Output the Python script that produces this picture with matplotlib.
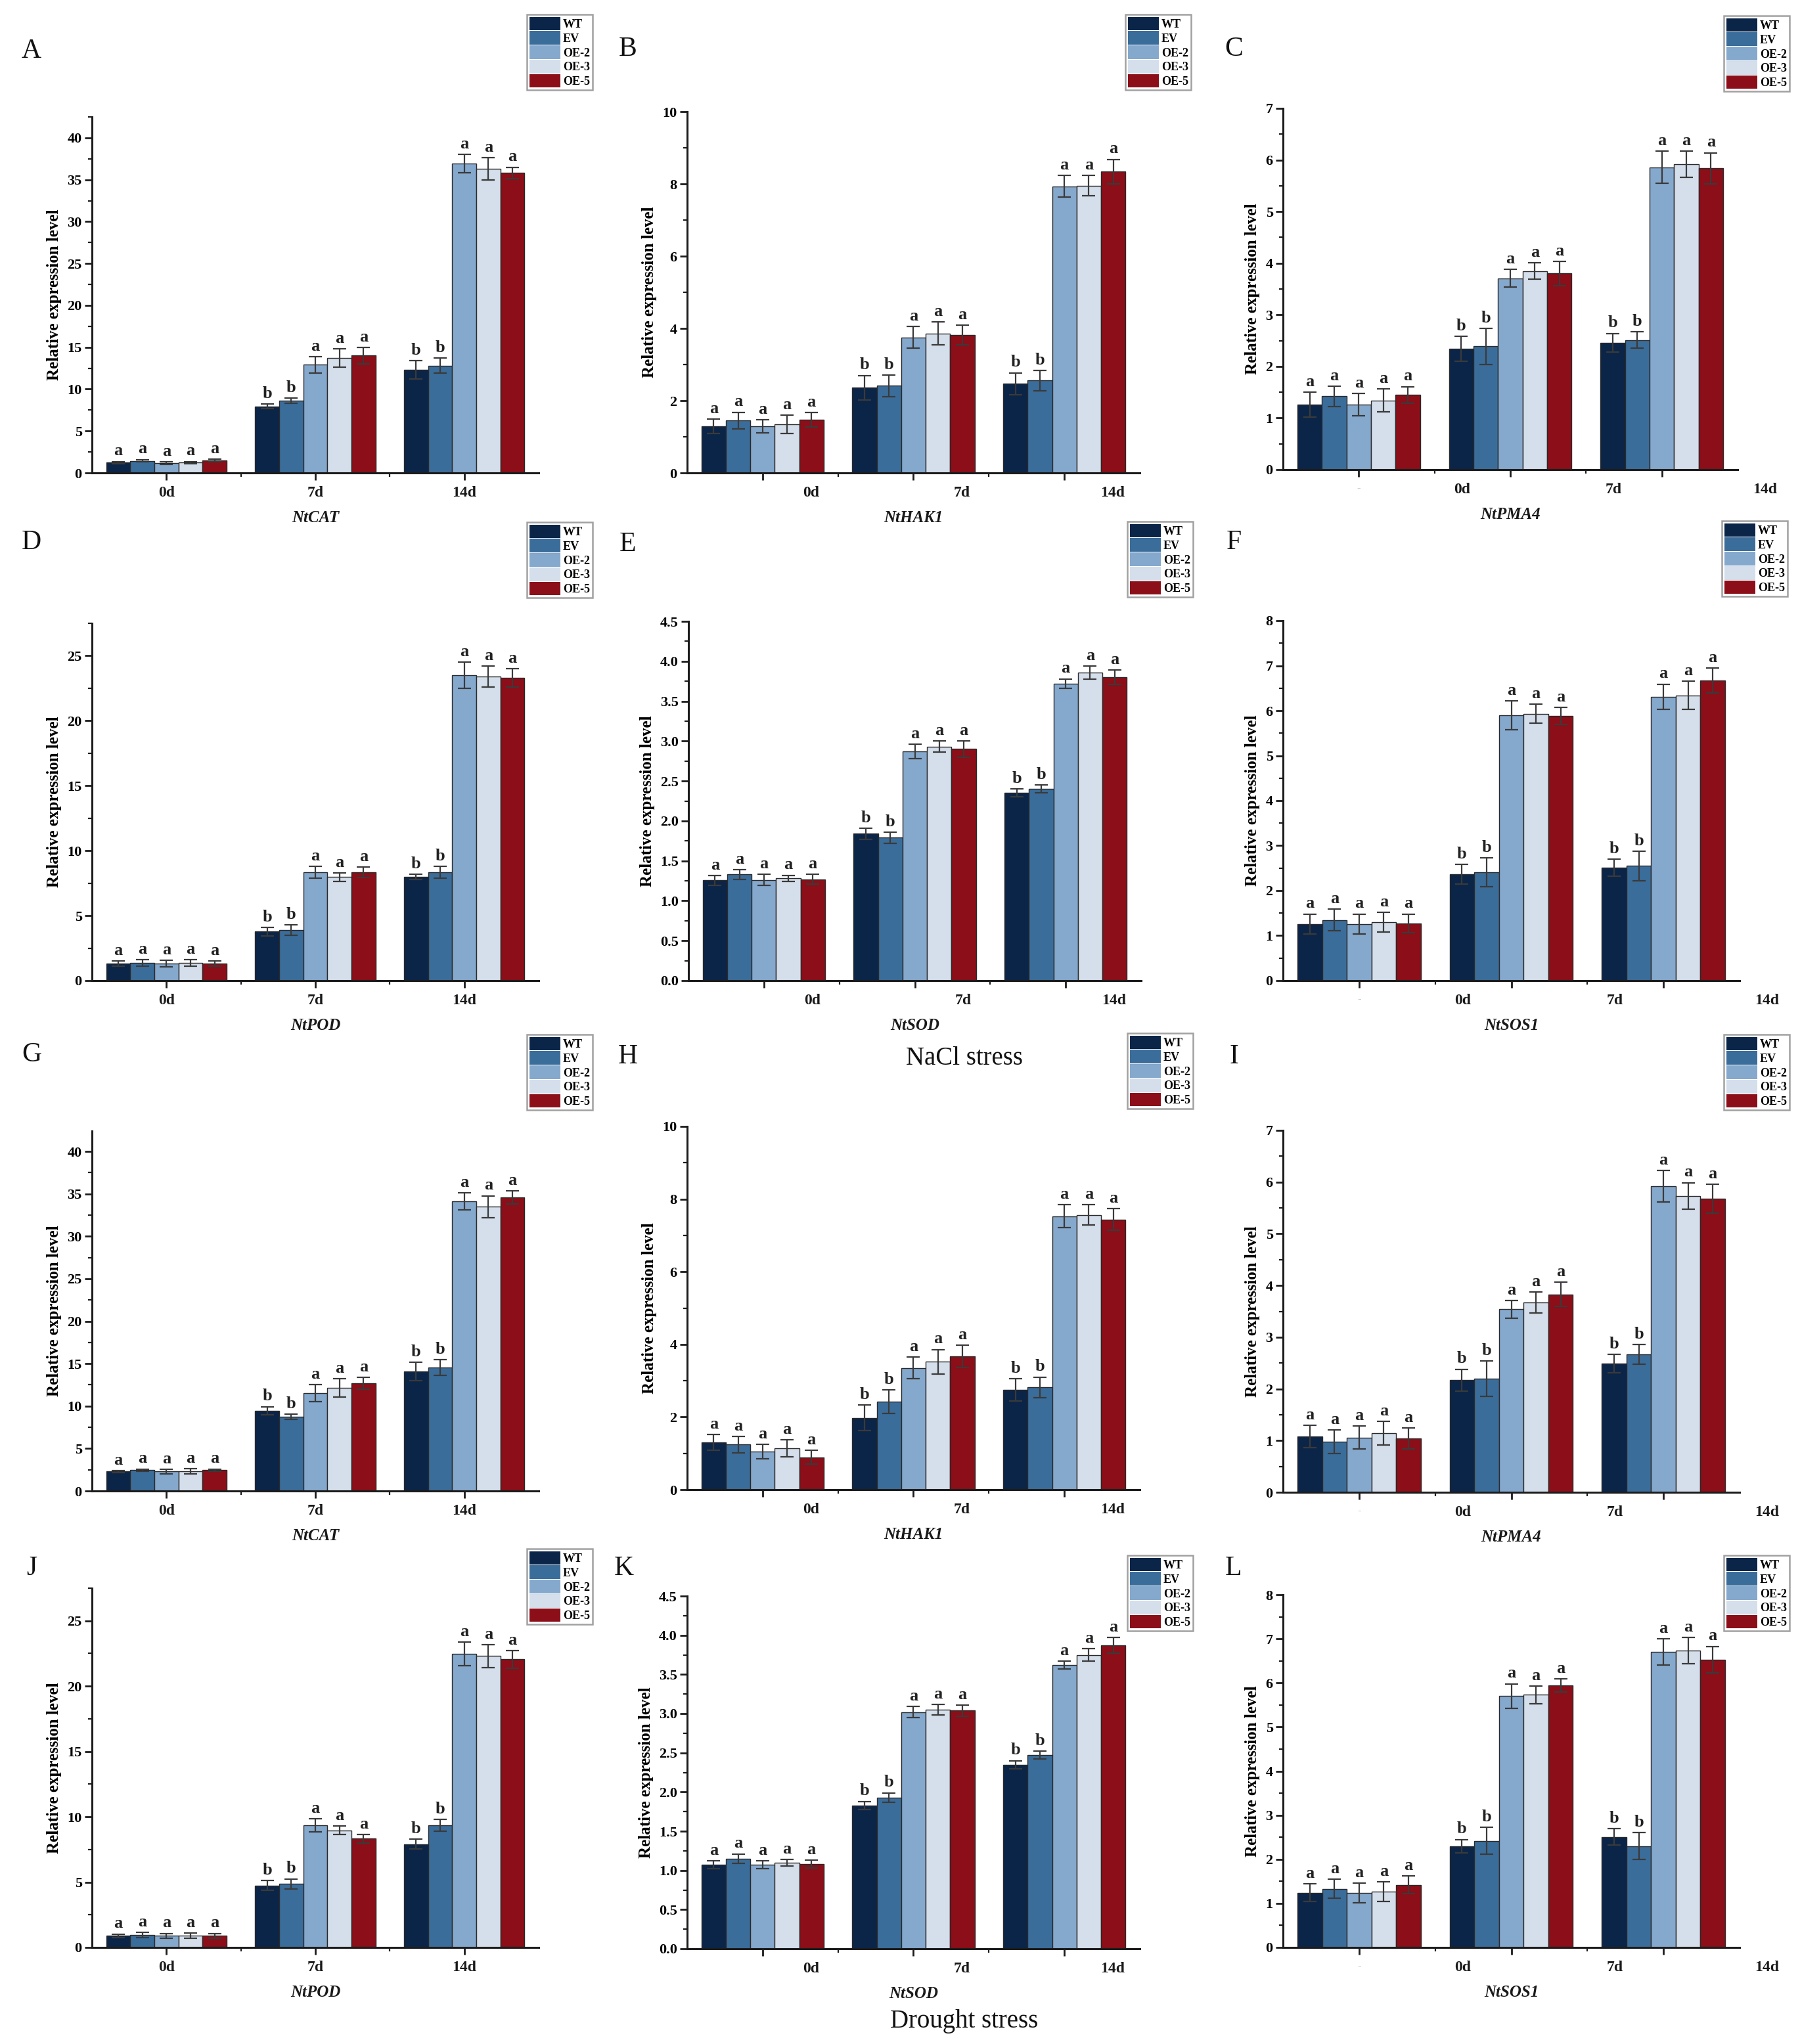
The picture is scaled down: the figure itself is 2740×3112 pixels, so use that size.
import numpy as np
import matplotlib
matplotlib.use("Agg")
import matplotlib.pyplot as plt
from matplotlib.patches import Patch
from matplotlib.ticker import MultipleLocator, AutoMinorLocator, FormatStrFormatter

plt.rcParams['font.family'] = ['Liberation Serif', 'DejaVu Serif']

# ---------------- data ----------------
time_points = ['0d', '7d', '14d']
genotypes = ['WT', 'EV', 'OE-2', 'OE-3', 'OE-5']
colors = ['#0b2548', '#3b6d9b', '#85a8cd', '#d5dfeb', '#8b0e18']
sig_letters = [['a', 'a', 'a', 'a', 'a'],
               ['b', 'b', 'a', 'a', 'a'],
               ['b', 'b', 'a', 'a', 'a']]

# NaCl stress (rows = time points, cols = genotypes)
A_mean = [[1.25, 1.45, 1.2, 1.22, 1.5], [7.95, 8.6, 12.9, 13.7, 14.0], [12.3, 12.8, 36.9, 36.3, 35.8]]
A_err = [[0.12, 0.15, 0.15, 0.15, 0.15], [0.3, 0.3, 1.0, 1.1, 1.0], [1.1, 0.9, 1.1, 1.3, 0.7]]
B_mean = [[1.29, 1.45, 1.29, 1.35, 1.47], [2.36, 2.41, 3.75, 3.86, 3.82], [2.47, 2.56, 7.93, 7.95, 8.34]]
B_err = [[0.2, 0.23, 0.18, 0.25, 0.2], [0.34, 0.3, 0.3, 0.32, 0.27], [0.3, 0.28, 0.3, 0.28, 0.34]]
C_mean = [[1.26, 1.42, 1.26, 1.34, 1.45], [2.34, 2.39, 3.71, 3.85, 3.8], [2.46, 2.51, 5.86, 5.92, 5.84]]
C_err = [[0.24, 0.2, 0.22, 0.22, 0.16], [0.24, 0.35, 0.17, 0.16, 0.23], [0.18, 0.16, 0.31, 0.25, 0.3]]
D_mean = [[1.3, 1.38, 1.3, 1.35, 1.3], [3.77, 3.9, 8.36, 7.97, 8.36], [7.97, 8.36, 23.5, 23.4, 23.3]]
D_err = [[0.2, 0.25, 0.25, 0.25, 0.2], [0.33, 0.4, 0.45, 0.33, 0.4], [0.2, 0.45, 1.0, 0.8, 0.7]]
E_mean = [[1.256, 1.33, 1.26, 1.28, 1.27], [1.84, 1.79, 2.87, 2.93, 2.9], [2.35, 2.4, 3.72, 3.86, 3.8]]
E_err = [[0.06, 0.06, 0.07, 0.04, 0.06], [0.07, 0.07, 0.09, 0.07, 0.1], [0.05, 0.05, 0.06, 0.08, 0.09]]
F_mean = [[1.26, 1.35, 1.26, 1.3, 1.27], [2.36, 2.41, 5.9, 5.93, 5.88], [2.51, 2.55, 6.31, 6.34, 6.67]]
F_err = [[0.22, 0.24, 0.22, 0.22, 0.21], [0.22, 0.32, 0.32, 0.21, 0.19], [0.19, 0.33, 0.28, 0.31, 0.28]]

# Drought stress
G_mean = [[2.3, 2.47, 2.3, 2.3, 2.47], [9.44, 8.76, 11.55, 12.15, 12.67], [14.06, 14.54, 34.14, 33.47, 34.58]]
G_err = [[0.12, 0.12, 0.25, 0.3, 0.12], [0.5, 0.3, 1.0, 1.05, 0.7], [1.1, 0.9, 1.0, 1.3, 0.8]]
H_mean = [[1.3, 1.24, 1.05, 1.14, 0.89], [1.98, 2.42, 3.35, 3.52, 3.67], [2.75, 2.82, 7.53, 7.56, 7.44]]
H_err = [[0.22, 0.23, 0.2, 0.24, 0.19], [0.35, 0.32, 0.3, 0.34, 0.3], [0.3, 0.28, 0.31, 0.28, 0.3]]
I_mean = [[1.08, 0.98, 1.06, 1.14, 1.04], [2.17, 2.2, 3.54, 3.67, 3.83], [2.49, 2.67, 5.92, 5.73, 5.68]]
I_err = [[0.22, 0.23, 0.22, 0.23, 0.2], [0.21, 0.34, 0.17, 0.2, 0.23], [0.18, 0.19, 0.3, 0.26, 0.28]]
J_mean = [[0.88, 0.96, 0.88, 0.91, 0.88], [4.75, 4.87, 9.34, 8.96, 8.33], [7.9, 9.34, 22.47, 22.3, 22.05]]
J_err = [[0.15, 0.2, 0.2, 0.2, 0.2], [0.38, 0.38, 0.5, 0.33, 0.33], [0.38, 0.46, 0.9, 0.88, 0.67]]
K_mean = [[1.07, 1.15, 1.07, 1.1, 1.08], [1.83, 1.93, 3.02, 3.05, 3.04], [2.35, 2.47, 3.62, 3.75, 3.87]]
K_err = [[0.05, 0.06, 0.05, 0.04, 0.05], [0.05, 0.06, 0.07, 0.07, 0.07], [0.05, 0.05, 0.05, 0.08, 0.1]]
L_mean = [[1.24, 1.33, 1.24, 1.27, 1.42], [2.3, 2.42, 5.7, 5.73, 5.94], [2.51, 2.3, 6.7, 6.73, 6.53]]
L_err = [[0.2, 0.22, 0.22, 0.22, 0.2], [0.15, 0.3, 0.28, 0.2, 0.15], [0.18, 0.3, 0.3, 0.3, 0.3]]

gene_names = ['NtCAT', 'NtHAK1', 'NtPMA4', 'NtPOD', 'NtSOD', 'NtSOS1']

# ---------------- layout (pixels) ----------------
W, H = 2740, 3112
DPI = 100
fig = plt.figure(figsize=(W / DPI, H / DPI), dpi=DPI)
fig.patch.set_facecolor('white')

# letter, gene, mean, err, ymax, ystep, fmt, xtype, (left,right,bottom,top), legend(x,y), letterpos
panels = [
    ('A', gene_names[0], A_mean, A_err, 42.5, 5, '%d', 1, (140, 820, 720, 178), (802, 22), (48, 78)),
    ('B', gene_names[1], B_mean, B_err, 10, 2, '%d', 2, (1046, 1735, 720, 170), (1713, 22), (956, 75)),
    ('C', gene_names[2], C_mean, C_err, 7, 1, '%d', 3, (1953, 2645, 715, 165), (2624, 24), (1878, 75)),
    ('D', gene_names[3], D_mean, D_err, 27.5, 5, '%d', 1, (140, 820, 1493, 949), (802, 795), (48, 826)),
    ('E', gene_names[4], E_mean, E_err, 4.5, 0.5, '%.1f', 2, (1048, 1737, 1493, 946), (1716, 794), (956, 829)),
    ('F', gene_names[5], F_mean, F_err, 8, 1, '%d', 3, (1953, 2648, 1493, 945), (2621, 793), (1878, 826)),
    ('G', gene_names[0], G_mean, G_err, 42.4, 5, '%d', 1, (140, 820, 2270, 1722), (802, 1575), (48, 1606)),
    ('H', gene_names[1], H_mean, H_err, 10, 2, '%d', 2, (1046, 1735, 2268, 1715), (1716, 1573), (956, 1609)),
    ('I', gene_names[2], I_mean, I_err, 7, 1, '%d', 3, (1953, 2648, 2272, 1721), (2624, 1575), (1878, 1609)),
    ('J', gene_names[3], J_mean, J_err, 27.5, 5, '%d', 1, (140, 820, 2965, 2418), (802, 2358), (48, 2388)),
    ('K', gene_names[4], K_mean, K_err, 4.5, 0.5, '%.1f', 2, (1046, 1735, 2967, 2430), (1716, 2368), (950, 2388)),
    ('L', gene_names[5], L_mean, L_err, 8, 1, '%d', 3, (1953, 2648, 2965, 2428), (2624, 2368), (1878, 2388)),
]

bar_w = 0.162
spine_c = '#1c1c1c'

for (let, gene, mean, err, ymax, ystep, fmt, xtype, rect, legpos, letpos) in panels:
    l, r, b, t = rect
    ax = fig.add_axes([l / W, 1 - b / H, (r - l) / W, (b - t) / H])
    m = np.array(mean)
    e = np.array(err)
    x = np.arange(len(time_points))
    for i, g in enumerate(genotypes):
        xi = x + (i - 2) * bar_w
        ax.bar(xi, m[:, i], bar_w, color=colors[i], edgecolor='#2a2a2a', linewidth=1.0,
               yerr=e[:, i], zorder=2,
               error_kw=dict(ecolor='#3a3a3a', elinewidth=1.6, capsize=7, capthick=1.6, zorder=3))
        for k in range(len(time_points)):
            ax.annotate(sig_letters[k][i], xy=(xi[k], m[k, i] + e[k, i]), xytext=(0, 3),
                        textcoords='offset points', ha='center', va='bottom',
                        fontsize=19, fontweight='bold', color='#222222')
    ax.set_xlim(-0.5, 2.5)
    ax.set_ylim(0, ymax)
    ax.yaxis.set_major_locator(MultipleLocator(ystep))
    ax.yaxis.set_minor_locator(AutoMinorLocator(2))
    ax.yaxis.set_major_formatter(FormatStrFormatter(fmt))
    ax.set_xticks(x)
    ax.set_xticks([0.5, 1.5], minor=True)
    ax.set_xticklabels([])
    for s in ['top', 'right']:
        ax.spines[s].set_visible(False)
    for s in ['left', 'bottom']:
        ax.spines[s].set_linewidth(2.2)
        ax.spines[s].set_color(spine_c)
    ax.tick_params(axis='both', which='major', direction='out', length=8, width=2, color=spine_c)
    ax.tick_params(axis='both', which='minor', direction='out', length=4, width=1.6, color=spine_c)
    ax.tick_params(axis='y', labelsize=16, pad=3)
    for tl in ax.get_yticklabels():
        tl.set_fontweight('bold')
    ax.set_ylabel('Relative expression level', fontsize=18, fontweight='bold', labelpad=6)
    ax.patch.set_alpha(0)

    # x tick labels
    if xtype == 1:
        lab_x = [0, 1, 2]
    elif xtype == 2:
        lab_x = [0.32, 1.32, 2.32]
    else:
        lab_x = [0.68, 1.68, 2.68]
        ax.annotate('-', xy=(0, 0), xycoords=('data', 'axes fraction'), xytext=(0, -20),
                    textcoords='offset points', ha='center', va='center', fontsize=12,
                    color='#bbbbbb', annotation_clip=False)
    for xv, lab in zip(lab_x, time_points):
        ax.annotate(lab, xy=(xv, 0), xycoords=('data', 'axes fraction'), xytext=(0, -22),
                    textcoords='offset points', ha='center', va='center', fontsize=17,
                    fontweight='bold', color='#1a1a1a', annotation_clip=False)
    # gene name
    ax.annotate(gene, xy=(0.5, 0), xycoords='axes fraction', xytext=(0, -49),
                textcoords='offset points', ha='center', va='center', fontsize=18,
                fontweight='bold', fontstyle='italic', color='#1a1a1a', annotation_clip=False)

    # legend
    handles = [Patch(facecolor=c, edgecolor='none') for c in colors]
    leg = fig.legend(handles, genotypes, loc='upper left',
                     bbox_to_anchor=(legpos[0] / W, 1 - legpos[1] / H), bbox_transform=fig.transFigure,
                     frameon=True, fancybox=False, edgecolor='#8a8a8a',
                     prop={'size': 13, 'weight': 'bold'}, handlelength=2.6, handleheight=1.4,
                     labelspacing=0.05, handletextpad=0.25, borderpad=0.2, borderaxespad=0)
    leg.get_frame().set_linewidth(1.8)

    fig.text(letpos[0] / W, 1 - letpos[1] / H, let, ha='center', va='center', fontsize=30, color='#111111')

fig.text(1468 / W, 1 - 1612 / H, 'NaCl stress', ha='center', va='center', fontsize=28, color='#111111')
fig.text(1468 / W, 1 - 3077 / H, 'Drought stress', ha='center', va='center', fontsize=28, color='#111111')

fig.savefig('out.png', dpi=DPI, facecolor='white')
